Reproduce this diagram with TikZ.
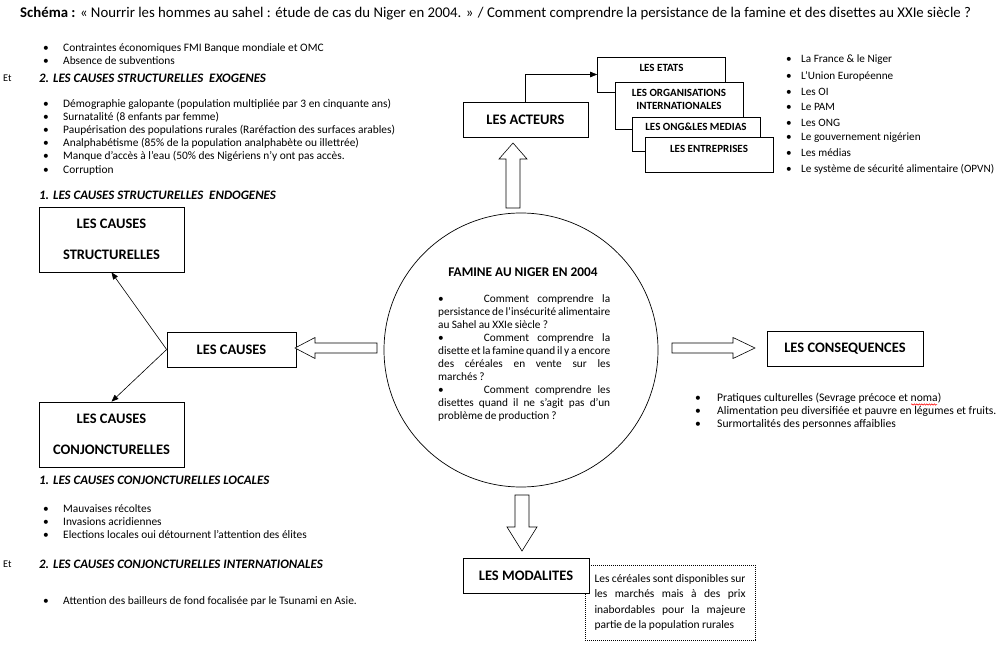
\documentclass[tikz,border=0pt]{standalone}
\usepackage{fontspec}
\setmainfont{Carlito}
\usetikzlibrary{arrows.meta,decorations.pathmorphing}
\begin{document}
\begin{tikzpicture}[x=1pt,y=-1pt,
  txt/.style={anchor=west,inner sep=0pt,font=\fontsize{11.4}{13}\selectfont},
  ctxt/.style={anchor=west,inner sep=0pt,font=\fontsize{11.6}{13}\selectfont},
  rtxt/.style={anchor=west,inner sep=0pt,font=\fontsize{11.2}{13}\selectfont},
  etlab/.style={anchor=west,inner sep=0pt,font=\fontsize{10.3}{12}\selectfont},
  hd/.style={anchor=west,inner sep=0pt,font=\fontsize{12.9}{14}\selectfont\bfseries\itshape},
  box/.style={draw,fill=white,line width=0.7pt,inner sep=0pt,align=center,font=\fontsize{14.5}{31}\selectfont\bfseries},
  sbox/.style={draw,fill=white,line width=0.7pt,inner sep=0pt,minimum width=128pt},
  slab/.style={inner sep=0pt,align=center,font=\fontsize{11}{13}\selectfont\bfseries},
  blk/.style={draw,fill=white,line width=0.6pt,line join=miter},
  conn/.style={line width=0.6pt,-{Triangle[length=7pt,width=5.5pt]}},
  dotbox/.style={draw,line width=0.8pt,dash pattern=on 0.8pt off 1.2pt,inner sep=0pt}
]
\useasboundingbox (0,0) rectangle (1006,660);

% title
\node[anchor=west,inner sep=0pt,font=\fontsize{14.8}{16}\selectfont] (title) at (20,14)
  {\textbf{Schéma :} « Nourrir les hommes au sahel : étude de cas du Niger en 2004. » / Comment comprendre la persistance de la famine et des disettes au XXIe siècle ?};

% top-left lists
\node[txt] (a1) at (43,48) {\makebox[20pt][l]{\textbullet}Contraintes économiques FMI Banque mondiale et OMC};
\node[txt] (a2) at (43,61) {\makebox[20pt][l]{\textbullet}Absence de subventions};
\node[etlab] (et1) at (3,78) {Et};
\node[hd] (h1) at (39,78) {2. LES CAUSES STRUCTURELLES\ \ EXOGENES};
\node[txt] (b1) at (43,104) {\makebox[20pt][l]{\textbullet}Démographie galopante (population multipliée par 3 en cinquante ans)};
\node[txt] (b2) at (43,117) {\makebox[20pt][l]{\textbullet}Surnatalité (8 enfants par femme)};
\node[txt] (b3) at (43,130) {\makebox[20pt][l]{\textbullet}Paupérisation des populations rurales (Raréfaction des surfaces arables)};
\node[txt] (b4) at (43,143) {\makebox[20pt][l]{\textbullet}Analphabétisme (85\% de la population analphabète ou illettrée)};
\node[txt] (b5) at (43,156) {\makebox[20pt][l]{\textbullet}Manque d’accès à l’eau (50\% des Nigériens n’y ont pas accès.};
\node[txt] (b6) at (43,170) {\makebox[20pt][l]{\textbullet}Corruption};
\node[hd] (h2) at (39,195) {1. LES CAUSES STRUCTURELLES\ \ ENDOGENES};

% cause boxes
\node[box,minimum width=145pt,minimum height=65pt] (struct) at (111.5,239.5) {LES CAUSES\\STRUCTURELLES};
\node[box,minimum width=129pt,minimum height=35pt] (causes) at (231.5,349.5) {LES CAUSES};
\node[box,minimum width=145pt,minimum height=65pt] (conj) at (111.5,434.5) {LES CAUSES\\CONJONCTURELLES};
\draw[conn] (causes.west) -- (struct.south);
\draw[conn] (causes.west) -- (conj.north);

% bottom-left lists
\node[hd] (h3) at (39,480) {1. LES CAUSES CONJONCTURELLES LOCALES};
\node[txt] (c1) at (43,509) {\makebox[20pt][l]{\textbullet}Mauvaises récoltes};
\node[txt] (c2) at (43,522) {\makebox[20pt][l]{\textbullet}Invasions acridiennes};
\node[txt] (c3) at (43,535) {\makebox[20pt][l]{\textbullet}Elections locales oui détournent l’attention des élites};
\node[etlab] (et2) at (3,564) {Et};
\node[hd] (h4) at (39,564) {2. LES CAUSES CONJONCTURELLES INTERNATIONALES};
\node[txt] (d1) at (43,601) {\makebox[20pt][l]{\textbullet}Attention des bailleurs de fond focalisée par le Tsunami en Asie.};

% central circle
\node[circle,draw,line width=0.7pt,minimum size=274pt,inner sep=0pt] (famine) at (521,350) {};
\node[inner sep=0pt,font=\fontsize{13.3}{15}\selectfont\bfseries] (ftitle) at (523,272) {FAMINE AU NIGER EN 2004};
\node[anchor=north west,inner sep=0pt] (ftext) at (438,294) {\parbox{172pt}{\fontsize{11.3}{13.1}\selectfont
\spaceskip=0.2em plus 2em minus 0.12em\relax
\textbullet\hspace{40pt}Comment comprendre la\linebreak
persistance de l’insécurité alimentaire\linebreak
au Sahel au XXIe siècle ?\par
\textbullet\hspace{40pt}Comment comprendre la\linebreak
disette et la famine quand il y a encore\linebreak
des céréales en vente sur les\linebreak
marchés ?\par
\textbullet\hspace{40pt}Comment comprendre les\linebreak
disettes quand il ne s’agit pas d’un\linebreak
problème de production ?}};

% block arrows
\draw[blk] (506,208) -- (506,159) -- (499,159) -- (513,143) -- (527,159) -- (520,159) -- (520,208) -- cycle;
\draw[blk] (377,343) -- (315,343) -- (315,337.5) -- (295,348) -- (315,358.5) -- (315,353) -- (377,353) -- cycle;
\draw[blk] (672,343) -- (733,343) -- (733,337.5) -- (755,348) -- (733,358.5) -- (733,353) -- (672,353) -- cycle;
\draw[blk] (515,495) -- (529,495) -- (529,527) -- (537,527) -- (522,551) -- (507,527) -- (515,527) -- cycle;

% actors
\node[box,minimum width=125pt,minimum height=35pt] (acteurs) at (525.5,119.5) {LES ACTEURS};
\node[sbox,minimum height=35pt] (etats) at (661.5,74.5) {};
\node[slab] (etatsl) at (661.5,68) {LES ETATS};
\node[sbox,minimum height=47pt] (org) at (679,105.5) {};
\node[slab] (orgl) at (679,99.5) {LES ORGANISATIONS\\INTERNATIONALES};
\node[sbox,minimum height=34pt] (ong) at (696,134) {};
\node[slab] (ongl) at (696,127) {LES ONG\&LES MEDIAS};
\node[sbox,minimum height=35pt] (ent) at (709,154.5) {};
\node[slab] (entl) at (709,149) {LES ENTREPRISES};
\draw[conn] (acteurs.north) |- (etats.west);

% right list
\node[rtxt] (r1) at (786,60) {\makebox[15pt][l]{\textbullet}La France \& le Niger};
\node[rtxt] (r2) at (786,76) {\makebox[15pt][l]{\textbullet}L’Union Européenne};
\node[rtxt] (r3) at (786,92) {\makebox[15pt][l]{\textbullet}Les OI};
\node[rtxt] (r4) at (786,107) {\makebox[15pt][l]{\textbullet}Le PAM};
\node[rtxt] (r5) at (786,123) {\makebox[15pt][l]{\textbullet}Les ONG};
\node[rtxt] (r6) at (786,138) {\makebox[15pt][l]{\textbullet}Le gouvernement nigérien};
\node[rtxt] (r7) at (786,153) {\makebox[15pt][l]{\textbullet}Les médias};
\node[rtxt] (r8) at (786,169) {\makebox[15pt][l]{\textbullet}Le système de sécurité alimentaire (OPVN)};

% consequences
\node[box,minimum width=156pt,minimum height=35pt] (conseq) at (845,348.5) {LES CONSEQUENCES};
\node[ctxt] (s1) at (695,398) {\makebox[22pt][l]{\textbullet}Pratiques culturelles (Sevrage précoce et noma)};
\node[ctxt] (s2) at (695,411) {\makebox[22pt][l]{\textbullet}Alimentation peu diversifiée et pauvre en légumes et fruits.};
\node[ctxt] (s3) at (695,424) {\makebox[22pt][l]{\textbullet}Surmortalités des personnes affaiblies};
\draw[red,line width=0.5pt,decorate,decoration={snake,amplitude=0.7pt,segment length=2.5pt}] (911,404.5) -- (937,404.5);

% modalites
\node[dotbox,minimum width=170pt,minimum height=75pt] (dots) at (670,602.5) {\parbox{151pt}{\fontsize{11.5}{15.5}\selectfont
\spaceskip=0.2em plus 2em minus 0.12em\relax
Les céréales sont disponibles sur\linebreak
les marchés mais à des prix\linebreak
inabordables pour la majeure\linebreak
partie de la population rurales}};
\node[box,minimum width=126pt,minimum height=35pt] (modal) at (526,575.5) {LES MODALITES};
\end{tikzpicture}
\end{document}
